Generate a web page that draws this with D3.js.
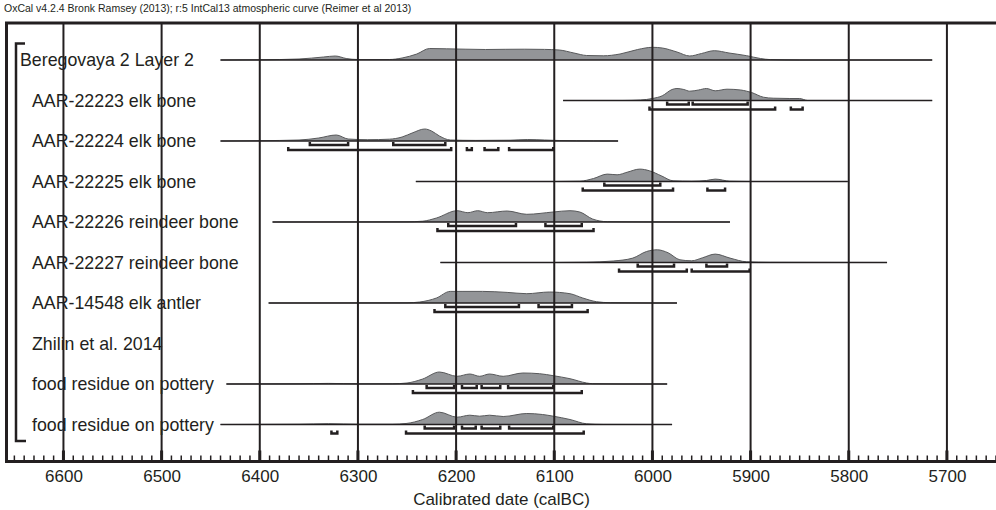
<!DOCTYPE html>
<html>
<head>
<meta charset="utf-8">
<script src="https://cdn.jsdelivr.net/npm/d3@7"></script>
<style>
  body { margin: 0; background: #fff; }
  svg { display: block; font-family: "Liberation Sans", Arial, Helvetica, sans-serif; }
</style>
</head>
<body>
<script>
// OxCal multiplot, Beregovaya 2 Layer 2
// values, years calBC

var titleText = "OxCal v4.2.4 Bronk Ramsey (2013); r:5 IntCal13 atmospheric curve (Reimer et al 2013)";
var axisTitle = "Calibrated date (calBC)";
var tickYears = [6600, 6500, 6400, 6300, 6200, 6100, 6000, 5900, 5800, 5700];

var labels = ["Beregovaya 2 Layer 2", "AAR-22223 elk bone", "AAR-22224 elk bone", "AAR-22225 elk bone",
  "AAR-22226 reindeer bone", "AAR-22227 reindeer bone", "AAR-14548 elk antler", "Zhilin et al. 2014",
  "food residue on pottery", "food residue on pottery"];
// 0 = phase heading, 1 = item inside it
var levels = [0, 1, 1, 1, 1, 1, 1, 1, 1, 1];

// plotted range of each row (null = no distribution)
var rangeStart = [6440, 6091, 6440, 6241, 6387, 6216, 6391, null, 6434, 6440];
var rangeEnd   = [5715, 5715, 6035, 5801, 5921, 5761, 5975, null, 5985, 5980];

// probability distributions [year, relative probability]
var densities = [
  [[6440,0],[6400,0.2],[6360,1],[6335,3],[6323,4],[6312,1.5],[6300,0.5],[6268,0.5],[6255,2],[6240,6],[6227,11.5],[6210,11.2],[6190,10.8],[6170,10.5],[6150,10.7],[6130,10.8],[6110,10.6],[6095,10],[6080,7],[6067,4.5],[6050,4.2],[6033,6],[6015,10.5],[6000,12.7],[5990,12],[5975,8],[5962,4],[5950,6.5],[5937,9.3],[5922,7],[5904,4.3],[5890,1.5],[5880,0.4],[5850,0],[5715,0]],
  [[6091,0],[6030,0],[6012,0.5],[6000,2],[5990,4.7],[5980,11],[5975,12],[5968,11],[5962,9.3],[5953,10.5],[5945,12],[5936,9.7],[5924,11.3],[5910,10.5],[5904,9.3],[5899,8],[5887,3.3],[5877,2.3],[5860,2],[5850,2],[5842,0],[5715,0]],
  [[6440,0],[6400,0.3],[6360,1],[6340,3],[6322,6],[6310,2],[6290,1.3],[6268,1.8],[6255,4],[6244,8.3],[6232,12],[6225,10],[6217,5],[6206,1],[6180,0.6],[6145,0.8],[6127,1.5],[6110,1],[6095,0.5],[6060,0.1],[6035,0]],
  [[6241,0],[6100,0],[6074,0.3],[6060,3],[6046,7.4],[6036,6.7],[6025,9.5],[6013,12.4],[6003,10.7],[5991,5.7],[5979,0.7],[5960,0.3],[5945,1],[5936,2.4],[5921,0.3],[5900,0],[5801,0]],
  [[6387,0],[6250,0.2],[6234,0.8],[6220,4],[6199,11.3],[6188,9.3],[6178,11.3],[6168,9.3],[6148,11],[6128,7.7],[6101,10],[6084,11.3],[6074,10],[6061,3],[6046,0.3],[6000,0.1],[5921,0]],
  [[6216,0],[6100,0],[6067,0.3],[6040,1.5],[6020,4.4],[6006,11],[5995,12.7],[5984,9.7],[5972,2.7],[5960,1.7],[5949,4.7],[5936,8.4],[5921,4.4],[5904,0.7],[5880,0.2],[5761,0]],
  [[6391,0],[6250,0.2],[6237,1],[6220,5],[6206,11.6],[6193,11.6],[6173,11.6],[6148,10.6],[6128,9.3],[6105,11],[6084,9.3],[6071,5],[6057,1.3],[6043,0.3],[6000,0],[5975,0]],
  [],
  [[6434,0],[6360,0.2],[6330,0.6],[6300,0.2],[6265,0.2],[6250,1],[6234,5],[6217,12],[6199,7.7],[6186,10],[6176,7.7],[6166,10],[6152,7.7],[6132,11],[6115,10.3],[6101,8.3],[6084,5.3],[6067,1],[6061,0.3],[6030,0],[5985,0]],
  [[6440,0],[6360,0.3],[6330,0.8],[6300,0.3],[6265,0.3],[6251,1],[6234,5],[6217,12.3],[6199,7.3],[6186,9.3],[6176,8.3],[6166,9.3],[6152,8],[6128,11],[6112,10],[6101,8.3],[6084,5],[6067,0.7],[6050,0.1],[5980,0]]
];

// highest posterior density ranges
var hpd68 = [[], [[5985,5963],[5959,5903]], [[6349,6310],[6264,6211]], [[6049,5992]],
  [[6208,6139],[6109,6072]], [[6015,5978],[5945,5924]], [[6211,6136],[6116,6082]], [],
  [[6230,6202],[6194,6179],[6174,6155],[6147,6101]], [[6232,6202],[6194,6180],[6174,6155],[6146,6101]]];
var hpd95 = [[], [[6003,5875],[5859,5847]], [[6371,6205],[6189,6184],[6171,6157],[6146,6101]],
  [[6071,5979],[5944,5926]], [[6219,6060]], [[6034,5965],[5960,5901]], [[6222,6066]], [],
  [[6244,6072]], [[6327,6321],[6251,6070]]];

var ink = "#231f20";
var width = 996, height = 510;
var frameTop = 23, axisY = 461.5;

var svg = d3.select("body").append("svg")
  .attr("width", width)
  .attr("height", height);

var x = d3.scaleLinear().domain([6657.5, 5650]).range([7, 996]);
var row = d3.scaleLinear().domain([0, 9]).range([60, 424.5]);
var h = d3.scaleLinear().domain([0, 12.7]).range([0, 12.7]);

// title
svg.append("text")
  .attr("x", 4).attr("y", 12)
  .attr("font-size", 10.5)
  .attr("fill", ink)
  .text(titleText);

// distributions
var area = d3.area()
  .x(function(d) { return x(d[0]); })
  .curve(d3.curveMonotoneX);
var topLine = d3.line()
  .x(function(d) { return x(d[0]); })
  .curve(d3.curveMonotoneX);

densities.forEach(function(dens, i) {
  if (!dens.length) return;
  var base = row(i);
  area.y0(base).y1(function(d) { return base - h(d[1]); });
  topLine.y(function(d) { return base - h(d[1]); });
  svg.append("path").attr("d", area(dens)).attr("fill", "#939598");
  svg.append("path").attr("d", topLine(dens))
    .attr("fill", "none").attr("stroke", "#58595b").attr("stroke-width", 1);
});

// row lines
labels.forEach(function(l, i) {
  if (rangeStart[i] == null) return;
  svg.append("line")
    .attr("x1", x(rangeStart[i])).attr("x2", x(rangeEnd[i]))
    .attr("y1", row(i)).attr("y2", row(i))
    .attr("stroke", ink).attr("stroke-width", 1.3);
});

// range brackets
function bracket(ranges, i, dy) {
  var y = row(i) + dy;
  ranges.forEach(function(r) {
    svg.append("path")
      .attr("d", "M" + x(r[0]) + "," + (y - 3) + "V" + y + "H" + x(r[1]) + "V" + (y - 3))
      .attr("fill", "none").attr("stroke", ink).attr("stroke-width", 2.5);
  });
}
hpd68.forEach(function(r, i) { bracket(r, i, 4); });
hpd95.forEach(function(r, i) { bracket(r, i, 9); });

// labels
svg.selectAll(".lab")
  .data(labels)
  .enter().append("text")
    .attr("class", "lab")
    .attr("x", function(d, i) { return levels[i] ? 32 : 20; })
    .attr("y", function(d, i) { return row(i) + 6; })
    .attr("font-size", 17.8)
    .attr("fill", ink)
    .text(function(d) { return d; });

// phase bracket
svg.append("path")
  .attr("d", "M25,43.5H16V441H26")
  .attr("fill", "none").attr("stroke", ink).attr("stroke-width", 2.5);

// grid
svg.selectAll(".grid")
  .data(tickYears)
  .enter().append("line")
    .attr("x1", function(d) { return x(d); }).attr("x2", function(d) { return x(d); })
    .attr("y1", frameTop).attr("y2", axisY)
    .attr("stroke", ink).attr("stroke-width", 2);

// axis
var axis = d3.axisBottom(x)
  .tickValues(tickYears)
  .tickSize(0)
  .tickPadding(8)
  .tickFormat(d3.format("d"));
var gAxis = svg.append("g").attr("transform", "translate(0," + axisY + ")").call(axis);
gAxis.select(".domain").remove();
gAxis.selectAll("text").attr("font-size", 17).attr("fill", ink).attr("font-family", null);

var minor = d3.range(6650, 5649, -10);
svg.selectAll(".minor")
  .data(minor)
  .enter().append("line")
    .attr("x1", function(d) { return x(d); }).attr("x2", function(d) { return x(d); })
    .attr("y1", function(d) { return d % 100 === 0 ? axisY - 11 : axisY - 6; })
    .attr("y2", axisY)
    .attr("stroke", ink)
    .attr("stroke-width", function(d) { return d % 100 === 0 ? 3 : 1.5; });

// frame
svg.append("path")
  .attr("d", "M996," + frameTop + "H6.5V" + axisY + "H996")
  .attr("fill", "none").attr("stroke", ink).attr("stroke-width", 3);

svg.append("text")
  .attr("x", (x.range()[0] + x.range()[1]) / 2).attr("y", 505)
  .attr("text-anchor", "middle")
  .attr("font-size", 17)
  .attr("fill", ink)
  .text(axisTitle);
</script>
</body>
</html>
